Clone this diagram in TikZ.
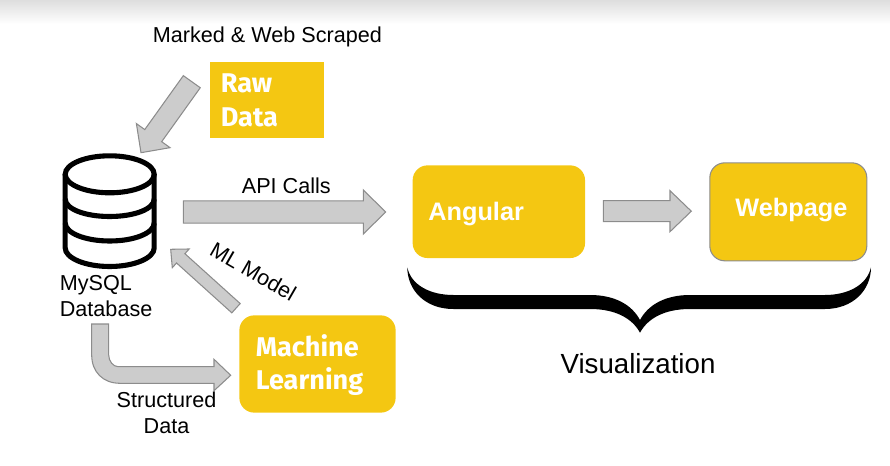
\documentclass[tikz,border=0pt]{standalone}
\usepackage{fontspec}
\setmainfont{Liberation Sans}
\newfontfamily\boxfont{Fira Sans}
\usetikzlibrary{calc}
\usetikzlibrary{positioning}

\definecolor{boxyellow}{HTML}{F4C712}
\definecolor{arrowgray}{HTML}{CCCCCC}
\definecolor{edgegray}{HTML}{8C8C8C}

\tikzset{
	roundbox/.style={fill=boxyellow, rounded corners=8.5pt, inner sep=0pt, anchor=north west},
	boxlabel/.style={text=white, font=\boxfont\bfseries\fontsize{15.4}{18}\selectfont, inner sep=0pt, anchor=base west},
	boldlabel/.style={text=white, font=\bfseries\fontsize{14.4}{18}\selectfont, inner sep=0pt, anchor=base west},
	plainlabel/.style={font=\fontsize{12.3}{14}\selectfont, inner sep=0pt, anchor=base west},
	arrowline/.style={fill=arrowgray, draw=edgegray, line width=.6pt, line join=miter},
	dbline/.style={line width=2.9pt, draw=black}
}

% block arrow from #1 to #2: half shaft, half head, head length
\newcommand{\blockarrow}[5]{
	\coordinate (hb) at ($(#2)!#5*0.02cm!(#1)$);
	\draw [arrowline] ($(#1)!#3*0.02cm!90:(#2)$) -- ($(hb)!#3*0.02cm!90:(#2)$) -- ($(hb)!#4*0.02cm!90:(#2)$) -- (#2) -- ($(hb)!#4*0.02cm!-90:(#2)$) -- ($(hb)!#3*0.02cm!-90:(#2)$) -- ($(#1)!#3*0.02cm!-90:(#2)$) -- cycle;
}

\begin{document}
\begin{tikzpicture}[x=0.02cm,y=-0.02cm]

	\useasboundingbox (0,0) rectangle (890,466);

	% page shadow
	\shade [top color=black!13, bottom color=white] (0,0) rectangle (890,24);
	
	% boxes
	\node [roundbox, rounded corners=0pt, minimum width=113.5*0.02cm, minimum height=76.5*0.02cm] (raw) at (210,61.5) {};
	\node [roundbox, minimum width=156.3*0.02cm, minimum height=97.3*0.02cm] (ml) at (239,315) {};
	\node [roundbox, minimum width=172.4*0.02cm, minimum height=92.7*0.02cm] (angular) at (412.3,165) {};
	\node [roundbox, draw=edgegray, line width=.6pt, minimum width=157*0.02cm, minimum height=98*0.02cm] (webpage) at (709.3,162.3) {};
	
	\node [boxlabel] (rawtxt) at (220.5,92.7) {Raw};
	\node [boxlabel] (datatxt) at (220.5,126.7) {Data};
	\node [boxlabel] (mltxt) at (255.5,356) {Machine};
	\node [boxlabel] (learntxt) at (255.5,389.3) {Learning};
	\node [boldlabel] (angtxt) at (428,220.7) {Angular};
	\node [boldlabel] (webtxt) at (735,216.7) {Webpage};
	
	% database
	\draw [dbline] (109.7,174.3) ellipse [x radius=44.5, y radius=18.5];
	\draw [dbline] (65.2,174) -- (65.2,248) .. controls (65.2,258) and (85,266.5) .. (109.7,266.5) .. controls (134.4,266.5) and (154.2,258) .. (154.2,248) -- (154.2,174);
	\draw [dbline] (65.2,199) .. controls (65.2,209) and (85,216.5) .. (109.7,216.5) .. controls (134.4,216.5) and (154.2,209) .. (154.2,199);
	\draw [dbline] (65.2,223) .. controls (65.2,233) and (85,241) .. (109.7,241) .. controls (134.4,241) and (154.2,233) .. (154.2,223);
	
	% texts
	\node [plainlabel] (marked) at (152.5,42.3) {Marked \& Web Scraped};
	\node [plainlabel] (mysql) at (59.5,291) {MySQL};
	\node [plainlabel] (database) at (59.5,316.7) {Database};
	\node [plainlabel] (api) at (241.5,194) {API Calls};
	\node [plainlabel, anchor=center, rotate=-30] (mlmodel) at (253.3,271.7) {ML Model};
	\node [plainlabel, anchor=base] (structured) at (166.5,407.3) {Structured};
	\node [plainlabel, anchor=base] (sdata) at (166.5,433.3) {Data};
	\node [plainlabel, anchor=base, font=\fontsize{15.75}{18}\selectfont] (vis) at (638,373.3) {Visualization};
	
	% connectors
	\coordinate (rawout) at (191.8,81.7);
	\coordinate (dbin) at (141,152.7);
	\coordinate (dbout) at (183.3,212);
	\coordinate (angin) at (385.7,212);
	\coordinate (angout) at (603.3,211.2);
	\coordinate (webin) at (691.3,211.2);
	\coordinate (mlout) at (236,308.2);
	\coordinate (mlback) at (170.7,249.3);
	
	\blockarrow{rawout}{dbin}{10.4}{20.7}{21}
	\blockarrow{dbout}{angin}{11.2}{22}{22.4}
	\blockarrow{angout}{webin}{10.5}{20.5}{21.3}
	\blockarrow{mlout}{mlback}{6.25}{12.6}{13.5}
	
	\coordinate (dbdown) at (100.2,324);
	\coordinate (mlin) at (230.7,375.3);
	\draw [arrowline] ($(dbdown)+(-8.5,0)$) -- ++(0,31) .. controls ++(0,17) and (103,383.3) .. (120,383.3) -- (214,383.3) -- (214,390.7) -- (mlin) -- (214,359.3) -- (214,366.7) -- (118.3,366.7) .. controls (113,366.7) and (108.7,361) .. (108.7,355) -- (108.7,324) -- cycle;
	
	% brace
	\fill (407.3,267.3) .. controls (411,285) and (430,295) .. (453.3,295) -- (590,295) .. controls (615,295) and (632,305) .. (640,320) .. controls (648,305) and (665,295) .. (690,295) -- (825,295) .. controls (848,295) and (867,285) .. (871,267.3) .. controls (871,290) and (853,309) .. (825,309) -- (690,309) .. controls (665,309) and (648,318) .. (640,332.7) .. controls (632,318) and (615,309) .. (590,309) -- (453.3,309) .. controls (425,309) and (407.3,290) .. (407.3,267.3) -- cycle;

\end{tikzpicture}
\end{document}
